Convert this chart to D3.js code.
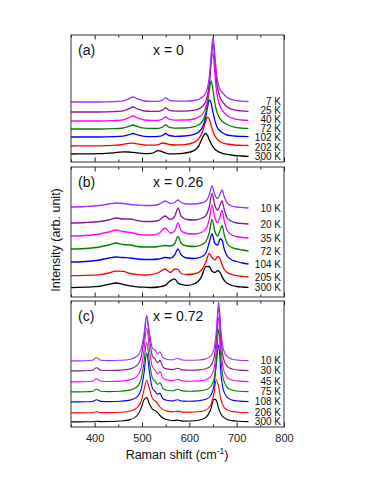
<!DOCTYPE html>
<html><head><meta charset="utf-8">
<script src="https://cdn.jsdelivr.net/npm/d3@7"></script>
<style>
body{margin:0;background:#fff}
svg{display:block}
text{font-family:"Liberation Sans",Arial,Helvetica,sans-serif}
</style>
</head><body>
<svg id="chart" width="382" height="494"></svg>
<script>
// ---------- Panel (a): x = 0 ----------
const shiftA = [350,380,410,440,460,472,481,490,505,520,535,543,550,557,570,590,610,620,628,634,638,642,646,650,654,658,663,670,680,695,710,725];
const tempsA = ["7 K","25 K","40 K","72 K","102 K","202 K","300 K"];
const a7K   = [60,60,60,60.4,61.2,63.2,65,63.2,61,60.6,60.7,61.8,64.1,61.9,60.8,60.8,61.5,62.7,65,68.4,73.6,84.1,105.9,125,106.7,85.8,74.8,69.3,64.5,61.8,60.9,60.5];
const a25K  = [50,50,50,50.4,51.2,53.2,55,53.2,51,50.6,50.7,51.8,54.1,51.9,50.9,50.9,51.8,53.2,55.8,60,65.9,77.7,100.2,119,101,79.4,67,60.4,55,52.1,51.1,50.6];
const a40K  = [41,41,41,41.4,42.2,44.2,46,44.2,42,41.6,41.7,42.8,45.1,42.9,41.9,42,43,45,48,53.6,61.2,75.7,99.3,108.8,87.7,69.1,58,51.7,46.3,43.2,42,41.5];
const a72K  = [33,33,33,33.3,34,35.6,37,35.6,33.8,33.5,33.7,34.8,37.1,34.9,33.9,34,35.3,37.3,41.1,47.9,57.2,71.3,81,72,58.7,50.4,44.6,40.5,37.5,34.8,33.9,33.6];
const a102K = [25,25,25,25.3,25.9,27.2,28.5,27.2,25.7,25.4,25.6,26.5,28.5,26.5,25.7,26,27.6,30,35,43.8,53.6,62,59,49.5,41.4,35.6,32,29.2,27,26,25.6,25.4];
const a202K = [16,16.1,16.2,16.6,17.5,18.7,18.9,18.1,17,16.8,17.4,19,18.5,17.5,17,17.4,19.6,23.3,30.5,40,44.8,43,36.6,30.5,26.1,23.3,21,19.2,18,17,16.7,16.5];
const a300K = [8,8.1,8.3,9.2,10.1,10,9.6,9.1,8.4,8.6,11.3,10.2,8.9,8.2,8.2,8.9,11.4,16.2,24.5,28.5,26.8,22.5,18.3,15.2,12.8,11.2,9.9,8.7,7.6,6.5,6,5.5];

// ---------- Panel (b): x = 0.26 ----------
const shiftB = [350,380,410,430,445,460,475,490,505,520,535,549,560,569,576,583,595,610,625,635,642,648,654,660,665,669,674,680,690,700,712,725];
const tempsB = ["10 K","20 K","35 K","72 K","104 K","205 K","300 K"];
const b10K  = [90,90.5,91.5,93,94,93.5,92.5,92,91.5,91.5,92.5,96,93.5,94.5,97,94.5,93,93,94,96,102,111,102,98.5,103,107,100,94,91,90,89.5,89];
const b20K  = [74,74.5,75.5,77,79,78,78,76.5,75.5,75.5,76.5,81,77.5,80.5,89,80.5,77.5,77,78.5,81.5,90,103.5,91.5,87,92,96,87,79,75.5,74,73.5,73];
const b35K  = [61,61.5,63,65,67,65.5,64.5,63,62,62,63.5,69,64,66,74,66,63.5,63,64.5,68,77.5,92,79,74.5,80.5,86.5,75.5,66.5,62,60.5,59.5,59];
const b72K  = [48,48.5,50,52,54,52.5,52,50.5,50,50,50.5,51.5,51,53.5,60.5,53.5,51,50.5,52,55.5,64,77.5,65.5,61,66.5,71.5,62,53.5,49.5,48,47,46];
const b104K = [35,35.5,37,39,40,39.5,39,38,37.5,37.5,38,39.5,39,42,48,42,39,38.5,40,44,54.5,63,53.5,52,58,57,47.5,41,37,35.5,34,33];
const b205K = [21.3,21.6,22.4,24,25.8,25.6,23.5,22.4,22,22.3,24.5,28,24.5,28,27.5,23.5,22.5,23,26.5,35,43.5,39.5,37,40.5,38,32.5,27.5,24.5,22.5,21.3,20.6,20];
const b300K = [9.3,9.8,10.6,12.7,14,12.7,11.1,10.2,9.8,9.5,10,11.6,16.4,18.2,14,12.6,11.6,13,19.6,30.3,30.5,25.8,24.5,26.3,24.5,20.4,16.4,13.7,11.5,10.5,10,9.7];

// ---------- Panel (c): x = 0.72 ----------
const shiftC = [350,380,395,404,413,430,455,475,490,498,504,510,516,522,528,533,538,544,552,565,575,585,600,620,635,645,652,657,662,667,672,680,690,705,725];
const tempsC = ["10 K","30 K","45 K","75 K","108 K","206 K","300 K"];
const c10K  = [66.1,66.2,66.7,69.2,66.7,66.4,66.7,67.8,71,77.7,92.5,112,93.1,79,76.7,73.2,75.1,69.6,67.8,67.2,68.7,67,66.7,67,68.1,70.8,77.9,95.5,125,95.5,77.9,70.3,67.8,66.8,66.4];
const c30K  = [56.1,56.2,56.7,59.2,56.8,56.5,56.9,58.1,61.9,69.7,87.1,110,87.4,71,67.9,64.2,66.6,60.2,58.1,57.4,58.8,57.1,56.8,57.1,58.3,61.2,68.8,88,120,88,68.8,60.6,58,56.9,56.4];
const c45K  = [45.1,45.2,45.7,48.2,45.8,45.5,45.9,47.1,50.9,58.7,76.1,99,76.4,60.1,56.8,53.1,55.4,49.1,47.1,46.4,47.8,46.1,45.8,46.1,47.3,50.3,58,77.5,110,77.5,58,49.7,47,45.9,45.4];
const c75K  = [35.1,35.2,35.6,37.7,35.7,35.4,35.8,36.9,40.5,47.7,63.8,85,64.1,49,45.7,42.6,44.5,38.7,36.8,36.2,37.8,36.1,35.8,36.1,37.3,40,47.6,66.5,98,66.5,47.6,39.5,37,35.8,35.4];
const c108K = [25.1,25.2,25.5,27.2,25.6,25.4,25.8,26.9,30.3,37.4,53.2,74,53.5,38.6,35.3,32.7,33.9,28.2,26.7,26.1,27.2,25.9,25.8,26.3,27.7,31.3,40.9,63.4,82.2,52.1,36.8,29.6,27.1,25.9,25.4];
const c206K = [14.1,14.2,14.3,15.2,14.4,14.4,14.8,16,19.4,25.5,36.6,46.8,37.6,28.5,26,23.6,20,17.6,16.1,15.1,15.9,14.9,14.9,15.3,17.1,21.8,33.6,47.3,39.6,26.8,20.8,17.1,15.6,14.7,14.4];
const c300K = [5.1,5.2,5.3,5.8,5.4,5.5,6,7.4,11.5,18.6,27,29.4,22.7,17.9,16.4,14.4,11.5,9,7.4,6.3,6.9,5.9,6,6.8,9.6,17.2,27.9,26.6,18.4,12.8,9.8,7.6,6.4,5.7,5.4];

const panelTags = ["(a)","(b)","(c)"];
const compositions = ["x = 0","x = 0.26","x = 0.72"];
const xMajorTicks = [400,500,600,700,800];
const xMinorTicks = [350,450,550,650,750];
const intensityMax = [127,130,126];

// ---------- drawing ----------
const colors = ["#9933ff","#8b1a8b","#ff00ff","#008000","#0000ff","#ff0000","#000000"];
const strokeW = [1.3,1.3,1.1];
const svg = d3.select("#chart");
const x = d3.scaleLinear().domain([350,800]).range([71,284]);

const panels = [
  {top:35, bottom:162, shift:shiftA, curves:[a7K,a25K,a40K,a72K,a102K,a202K,a300K], temps:tempsA},
  {top:167,bottom:297, shift:shiftB, curves:[b10K,b20K,b35K,b72K,b104K,b205K,b300K], temps:tempsB},
  {top:301,bottom:427, shift:shiftC, curves:[c10K,c30K,c45K,c75K,c108K,c206K,c300K], temps:tempsC}
];

// spread labels so neighbours are at least `gap` px apart, keeping them centred on their curves
function spreadLabels(ys, gap) {
  const out = ys.slice();
  for (let it = 0; it < 50; it++) {
    let moved = false;
    for (let k = 1; k < out.length; k++) {
      const d = out[k] - out[k-1];
      if (d < gap) {
        const s = (gap - d) / 2;
        out[k-1] -= s; out[k] += s; moved = true;
      }
    }
    if (!moved) break;
  }
  return out;
}

panels.forEach((p, i) => {
  const y = d3.scaleLinear().domain([0, intensityMax[i]]).range([p.bottom, p.top]);
  const g = svg.append("g");
  const line = d3.line().x(d => x(d[0])).y(d => y(d[1])).curve(d3.curveMonotoneX);

  const labelY = spreadLabels(p.curves.map(c => y(c[c.length - 1])), 9.2);

  for (let k = p.curves.length - 1; k >= 0; k--) {
    const pts = p.shift.map((s, j) => [s, p.curves[k][j]]);
    g.append("path").attr("d", line(pts)).attr("fill","none")
      .attr("stroke", colors[k]).attr("stroke-width", strokeW[i]).attr("stroke-linejoin","round");
    g.append("text").attr("x", 281).attr("y", labelY[k]).attr("dy","0.36em")
      .attr("text-anchor","end").attr("font-size","10px").attr("fill","#111")
      .text(p.temps[k]);
  }

  const bot = g.append("g").attr("transform", `translate(0,${p.bottom})`);
  bot.call(d3.axisBottom(x).tickValues(xMinorTicks).tickSize(-2.5).tickFormat(""));
  const botMaj = g.append("g").attr("transform", `translate(0,${p.bottom})`);
  botMaj.call(d3.axisBottom(x).tickValues(xMajorTicks).tickSize(-4.5).tickPadding(7)
    .tickFormat(i === 2 ? d3.format("d") : ""));
  const top = g.append("g").attr("transform", `translate(0,${p.top})`);
  top.call(d3.axisTop(x).tickValues(xMinorTicks).tickSize(-2.5).tickFormat(""));
  const topMaj = g.append("g").attr("transform", `translate(0,${p.top})`);
  topMaj.call(d3.axisTop(x).tickValues(xMajorTicks).tickSize(-4.5).tickFormat(""));
  g.selectAll(".domain").remove();
  g.selectAll(".tick line").attr("stroke","#222");
  g.selectAll(".tick text").attr("font-size","11px").attr("fill","#222")
    .attr("font-family",'"Liberation Sans",Arial,sans-serif');

  g.append("rect").attr("x", 71).attr("y", p.top).attr("width", 284-71).attr("height", p.bottom-p.top)
    .attr("fill","none").attr("stroke","#333").attr("stroke-width",1);

  g.append("text").attr("x", 78).attr("y", p.top + 20).attr("font-size","14px").attr("fill","#111")
    .text(panelTags[i]);
  g.append("text").attr("x", 153).attr("y", p.top + 20).attr("font-size","14px").attr("fill","#111")
    .text(compositions[i]);
});

const xt = svg.append("text").attr("x", 177).attr("y", 459).attr("text-anchor","middle")
  .attr("font-size","12.5px").attr("fill","#111");
xt.append("tspan").text("Raman shift (cm");
xt.append("tspan").attr("font-size","8.5px").attr("dy","-5").text("-1");
xt.append("tspan").attr("dy","5").text(")");

svg.append("text").attr("transform","translate(55,240) rotate(-90)").attr("dy","0.36em")
  .attr("text-anchor","middle").attr("font-size","12.5px").attr("fill","#111")
  .text("Intensity (arb. unit)");
</script>
</body></html>
